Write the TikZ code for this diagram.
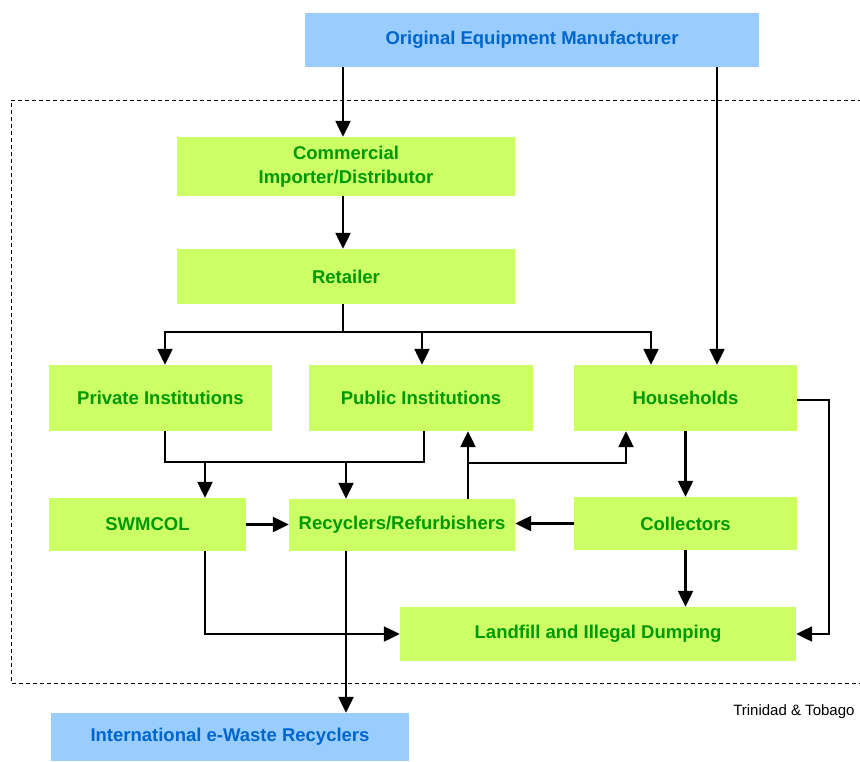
\documentclass[tikz,border=0pt]{standalone}
\usepackage{fontspec}
\setmainfont{Liberation Sans}
\usetikzlibrary{arrows.meta,calc}

\definecolor{boxgreen}{HTML}{CCFF66}
\definecolor{txtgreen}{HTML}{009900}
\definecolor{boxblue}{HTML}{99CCFF}
\definecolor{txtblue}{HTML}{0066CC}

\tikzset{
  greenbox/.style={fill=boxgreen, text=txtgreen, inner sep=0pt, align=center,
    font=\fontsize{18.5}{24}\selectfont\bfseries},
  bluebox/.style={fill=boxblue, text=txtblue, inner sep=0pt, align=center,
    font=\fontsize{18.5}{24}\selectfont\bfseries},
  link/.style={line width=2.3pt, black},
  arr/.style={link, -{Triangle[length=16pt,width=15pt]}},
  border/.style={line width=1pt, dash pattern=on 4pt off 3pt}
}

\begin{document}
\begin{tikzpicture}[x=1pt,y=-1pt]
  \useasboundingbox (0,0) rectangle (860,761);

  % country boundary
  \draw[border] (862,100) -- (11,100) -- (11,683) -- (862,683);
  \node[anchor=east, font=\fontsize{15}{18}\selectfont] (tt) at (858,712) {Trinidad \& Tobago};

  % boxes
  \node[bluebox, minimum width=454pt, minimum height=54pt] (oem) at (532,40) {Original Equipment Manufacturer};
  \node[greenbox, minimum width=338pt, minimum height=59pt] (comm) at (346,166.5) {Commercial\\Importer/Distributor};
  \node[greenbox, minimum width=338pt, minimum height=55pt] (ret) at (346,276.5) {Retailer};
  \node[greenbox, minimum width=223pt, minimum height=66pt] (priv) at (160.5,398) {Private Institutions};
  \node[greenbox, minimum width=224pt, minimum height=66pt] (pub) at (421,398) {Public Institutions};
  \node[greenbox, minimum width=223pt, minimum height=66pt] (hh) at (685.5,398) {Households};
  \node[greenbox, minimum width=197pt, minimum height=53pt] (sw) at (147.5,524.5) {SWMCOL};
  \node[greenbox, minimum width=226pt, minimum height=52pt] (rec) at (402,525) {Recyclers/Refurbishers};
  \node[greenbox, minimum width=223pt, minimum height=53pt] (col) at (685.5,523.5) {Collectors};
  \node[greenbox, minimum width=396pt, minimum height=54pt] (land) at (598,634) {Landfill and Illegal Dumping};
  \node[bluebox, minimum width=358pt, minimum height=48pt] (intl) at (230,737) {International e-Waste Recyclers};

  % supply chain
  \draw[arr] ([xshift=-3pt]comm.north |- oem.south) -- ([xshift=-3pt]comm.north);
  \draw[arr] ([xshift=31.5pt]hh.north |- oem.south) -- ([xshift=31.5pt]hh.north);
  \draw[arr] ([xshift=-3pt]comm.south) -- ([xshift=-3pt]ret.north);
  \coordinate (split) at ($([xshift=-3pt]ret.south)+(0,28)$);
  \draw[link] ([xshift=-3pt]ret.south) -- (split);
  \draw[arr] (split) -| ([xshift=4.5pt]priv.north);
  \draw[arr] (split) -| ([xshift=1pt]pub.north);
  \draw[arr] (split) -| ([xshift=-34.5pt]hh.north);

  % institutions to disposal
  \coordinate (merge) at ($([xshift=4.5pt]priv.south)+(0,31)$);
  \draw[link] ([xshift=4.5pt]priv.south) -- (merge) -| ([xshift=3pt]pub.south);
  \draw[arr] ([xshift=57.5pt]sw.north |- merge) -- ([xshift=57.5pt]sw.north);
  \draw[arr] ([xshift=-56pt]rec.north |- merge) -- ([xshift=-56pt]rec.north);

  % refurbished goods back to users
  \draw[arr] ([xshift=66pt]rec.north) -- ([xshift=47pt]pub.south);
  \coordinate (back) at ($([xshift=66pt]rec.north)+(0,-36)$);
  \draw[arr] (back) -| ([xshift=-59.5pt]hh.south);

  % collection
  \draw[arr] (hh.south) -- (col.north);
  \draw[arr] (sw.east) -- (rec.west |- sw.east);
  \draw[arr] (col.west) -- (rec.east |- col.west);
  \draw[arr] (col.south) -- (col.south |- land.north);

  % final destinations
  \draw[arr] ([xshift=57.5pt]sw.south) |- (land.west);
  \draw[arr] ([xshift=-56pt]rec.south) -- ([xshift=-56pt]rec.south |- intl.north);
  \draw[arr] ([yshift=-2pt]hh.east) -- ++(32,0) |- (land.east);
\end{tikzpicture}
\end{document}
